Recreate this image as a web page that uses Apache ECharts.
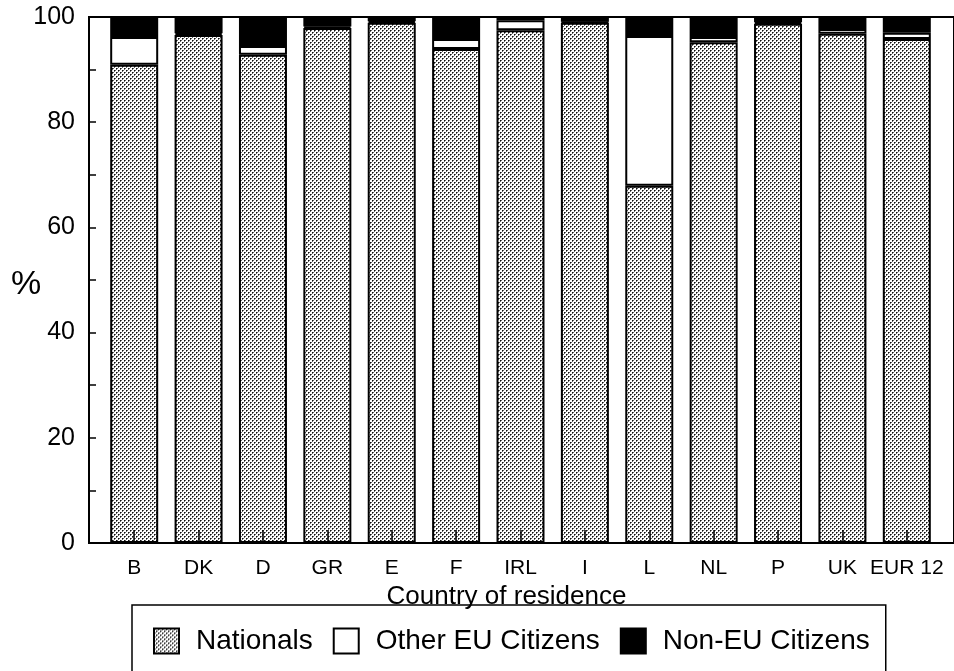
<!DOCTYPE html>
<html>
<head>
<meta charset="utf-8">
<script src="https://cdn.jsdelivr.net/npm/echarts@6/dist/echarts.min.js"></script>
<style>
html,body{margin:0;padding:0;background:#fff;}
#chart{width:954px;height:671px;}
</style>
</head>
<body>
<div id="chart"></div>
<script>
// Data (% of population by citizenship)
const categories = ['B','DK','D','GR','E','F','IRL','I','L','NL','P','UK','EUR 12'];
const nationals  = [90.9, 96.6, 92.8, 97.9, 98.9, 93.9, 97.5, 98.9, 67.9, 95.2, 98.7, 96.8, 95.8];
const otherEU    = [5.3, 0.3, 1.7, 0.3, 0.3, 1.9, 1.9, 0.2, 28.5, 1.0, 0.3, 0.9, 1.2];
const nonEU      = [3.8, 3.1, 5.5, 1.8, 0.8, 4.2, 0.6, 0.9, 3.6, 3.8, 1.0, 2.3, 3.0];
const yTicks     = [0, 20, 40, 60, 80, 100];

// stipple pattern
const pat = document.createElement('canvas');
pat.width = 4; pat.height = 4;
const pc = pat.getContext('2d');
pc.fillStyle = '#ffffff'; pc.fillRect(0,0,4,4);
pc.fillStyle = '#111111'; pc.fillRect(0,0,1,1); pc.fillRect(2,2,1,1);
pc.fillStyle = '#666666'; pc.fillRect(1,0,1,1); pc.fillRect(0,1,1,1); pc.fillRect(3,2,1,1); pc.fillRect(2,3,1,1);

const FONT = "'Liberation Sans', Arial, Helvetica, sans-serif";
const chart = echarts.init(document.getElementById('chart'), null, {renderer:'canvas'});

const barStyle = (color) => ({color: color, borderColor:'#000', borderWidth:2});

chart.setOption({
  animation: false,
  backgroundColor: '#fff',
  textStyle: {fontFamily: FONT, color:'#000'},
  grid: [
    {left: 89, right: -3, top: 17, bottom: 128, show: true, borderColor: '#000', borderWidth: 2, backgroundColor: 'transparent'},
    {left: 102, right: 15, top: 17, bottom: 128}
  ],
  graphic: [
    {type: 'text', left: 11, top: 268, style: {text: '%', fontFamily: FONT, fontSize: 34, fill: '#000'}}
  ],
  legend: {
    left: 132, top: 605,
    orient: 'horizontal',
    padding: [22, 16, 18, 21],
    itemWidth: 25, itemHeight: 25, itemGap: 20,
    borderColor: '#000', borderWidth: 1.5,
    icon: 'rect',
    textStyle: {fontFamily: FONT, fontSize: 28, color: '#000', padding: [0,0,0,12]},
    data: ['Nationals','Other EU Citizens','Non-EU Citizens']
  },
  xAxis: [
    {gridIndex: 0, type: 'value', min: 0, max: 1, show: false},
    {gridIndex: 1, type: 'category', data: categories,
     axisLine: {show: false},
     axisTick: {show: true, alignWithLabel: true, inside: true, length: 13, lineStyle: {color:'#000', width: 1.5}},
     axisLabel: {fontFamily: FONT, fontSize: 21, color: '#000', margin: 15, interval: 0},
     name: 'Country of residence', nameLocation: 'middle', nameGap: 40,
     nameTextStyle: {fontFamily: FONT, fontSize: 26, color: '#000', padding: [0, 28, 0, 0]},
     z: 10}
  ],
  yAxis: [
    {gridIndex: 0, type: 'value', min: 0, max: 100, interval: 20,
     axisLine: {show: true, lineStyle: {color:'#000', width: 2}},
     axisTick: {show: true, inside: true, length: 7, lineStyle: {color:'#000', width: 1.5}},
     minorTick: {show: true, splitNumber: 2, length: 7, lineStyle: {color:'#000', width: 1.5}},
     splitLine: {show: false},
     axisLabel: {fontFamily: FONT, fontSize: 25, color: '#000', margin: 14,
       formatter: (v) => yTicks.indexOf(v) >= 0 ? String(v) : ''}},
    {gridIndex: 1, type: 'value', min: 0, max: 100, show: false}
  ],
  series: [
    {name: 'Nationals', type: 'bar', stack: 'all', xAxisIndex: 1, yAxisIndex: 1, barWidth: 48,
     itemStyle: barStyle({image: pat, repeat: 'repeat'}), data: nationals},
    {name: 'Other EU Citizens', type: 'bar', stack: 'all', xAxisIndex: 1, yAxisIndex: 1, barWidth: 48,
     itemStyle: barStyle('#ffffff'), data: otherEU},
    {name: 'Non-EU Citizens', type: 'bar', stack: 'all', xAxisIndex: 1, yAxisIndex: 1, barWidth: 48,
     itemStyle: barStyle('#000000'), data: nonEU}
  ]
});
</script>
</body>
</html>
